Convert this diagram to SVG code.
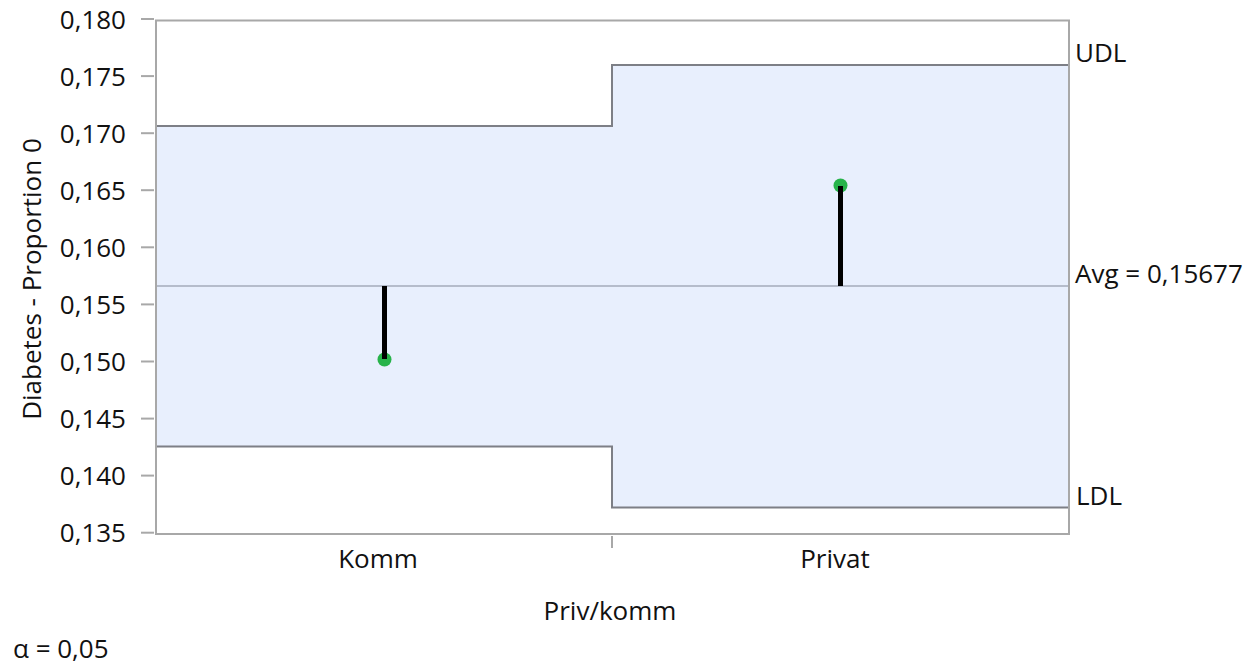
<svg xmlns="http://www.w3.org/2000/svg" width="1254" height="664" viewBox="0 0 1254 664">
<style>
text{font-family:"Open Sans","Noto Sans","Liberation Sans",sans-serif;font-size:26px;fill:#111}
.tl{text-anchor:end}
.mid{text-anchor:middle}
.tick{stroke:#a8a8a8;stroke-width:2}
.lim{stroke:#7d7f86;stroke-width:2;fill:none}
.dev{stroke:#000;stroke-width:5}
.pt{fill:#27b34a}
</style>
<rect width="1254" height="664" fill="#fff"/>
<g id="bands">
<path d="M156,126 H612 V65 H1069 V507.5 H612 V446.5 H156 Z" fill="#e8effd"/>
</g>
<g id="avg-line">
<line x1="156" y1="286" x2="1069" y2="286" stroke="#b5bccb" stroke-width="2"/>
</g>
<g id="limits">
<path class="lim" d="M156,126 H612 V65 H1069"/>
<path class="lim" d="M156,446.5 H612 V507.5 H1069"/>
</g>
<g id="frame">
<rect x="156" y="20.5" width="913" height="513.5" fill="none" stroke="#a8a8a8" stroke-width="2"/>
</g>
<g id="y-axis">
<line class="tick" x1="141" y1="19" x2="154" y2="19"/>
<line class="tick" x1="141" y1="76.1" x2="154" y2="76.1"/>
<line class="tick" x1="141" y1="133.2" x2="154" y2="133.2"/>
<line class="tick" x1="141" y1="190.2" x2="154" y2="190.2"/>
<line class="tick" x1="141" y1="247.3" x2="154" y2="247.3"/>
<line class="tick" x1="141" y1="304.4" x2="154" y2="304.4"/>
<line class="tick" x1="141" y1="361.5" x2="154" y2="361.5"/>
<line class="tick" x1="141" y1="418.6" x2="154" y2="418.6"/>
<line class="tick" x1="141" y1="475.6" x2="154" y2="475.6"/>
<line class="tick" x1="141" y1="532.7" x2="154" y2="532.7"/>
<text class="tl" x="126" y="28.5">0,180</text>
<text class="tl" x="126" y="85.6">0,175</text>
<text class="tl" x="126" y="142.7">0,170</text>
<text class="tl" x="126" y="199.7">0,165</text>
<text class="tl" x="126" y="256.8">0,160</text>
<text class="tl" x="126" y="313.9">0,155</text>
<text class="tl" x="126" y="371">0,150</text>
<text class="tl" x="126" y="428.1">0,145</text>
<text class="tl" x="126" y="485.1">0,140</text>
<text class="tl" x="126" y="542.2">0,135</text>
<text class="mid" transform="translate(41,279) rotate(-90)">Diabetes - Proportion 0</text>
</g>
<g id="x-axis">
<line class="tick" x1="612" y1="536" x2="612" y2="548"/>
<text class="mid" x="378" y="568">Komm</text>
<text class="mid" x="835" y="568">Privat</text>
<text class="mid" x="610" y="620">Priv/komm</text>
</g>
<g id="connectors">
<line class="dev" x1="384.5" y1="286" x2="384.5" y2="359"/>
<line class="dev" x1="840.5" y1="286" x2="840.5" y2="185.5"/>
</g>
<g id="point-komm">
<circle class="pt" cx="384.5" cy="359.5" r="7"/>
<line class="dev" x1="384.5" y1="340" x2="384.5" y2="359"/>
</g>
<g id="point-privat">
<circle class="pt" cx="840.5" cy="185.5" r="7"/>
<line class="dev" x1="840.5" y1="205" x2="840.5" y2="186"/>
</g>
<g id="labels">
<text x="1075" y="62">UDL</text>
<text x="1075" y="283">Avg = 0,15677</text>
<text x="1076" y="505">LDL</text>
<text x="13" y="658">α = 0,05</text>
</g>
</svg>
